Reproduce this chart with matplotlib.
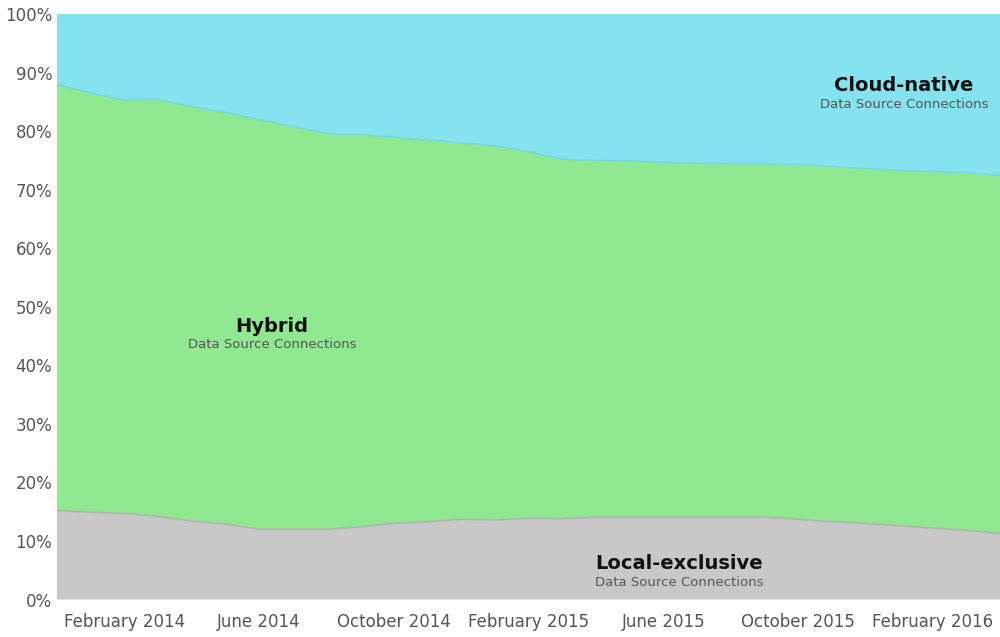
import matplotlib
matplotlib.use("Agg")
import matplotlib.pyplot as plt
import numpy as np

months = list(range(29))  # Dec 2013 .. Apr 2016
local = [15.2,14.9,14.7,14.2,13.4,12.9,12.0,12.0,12.0,12.4,13.0,13.3,13.7,13.6,13.9,13.8,14.1,14.1,14.1,14.1,14.1,14.1,13.7,13.3,13.0,12.6,12.2,11.8,11.3]
hybrid_top = [88.0,86.5,85.3,85.4,84.2,83.2,82.0,80.8,79.6,79.4,79.0,78.5,78.0,77.5,76.5,75.2,75.0,74.9,74.7,74.5,74.4,74.4,74.3,74.0,73.6,73.3,73.1,72.9,72.4]
hybrid = [t - l for t, l in zip(hybrid_top, local)]
cloud = [100 - t for t in hybrid_top]
tick_pos = [2, 6, 10, 14, 18, 22, 26]
tick_labels = ["February 2014", "June 2014", "October 2014", "February 2015",
               "June 2015", "October 2015", "February 2016"]

fig = plt.figure(figsize=(10, 6.37), dpi=100)
ax = fig.add_axes([0.057, 0.046, 0.943, 0.932])
ax.stackplot(months, local, hybrid, cloud,
             colors=["#c8c8c8", "#90e890", "#85e3f0"], edgecolor="none")
ax.plot(months, local, color="#b0b0b0", lw=1)
ax.plot(months, hybrid_top, color="#6fd8e0", lw=1)
ax.set_xlim(0, 28)
ax.set_ylim(-1.4, 100)
ax.set_yticks(range(0, 101, 10))
ax.set_yticklabels([f"{v}%" for v in range(0, 101, 10)])
ax.set_xticks(tick_pos)
ax.set_xticklabels(tick_labels)
ax.tick_params(colors="#555555", labelsize=12, length=0)
for s in ax.spines.values():
    s.set_visible(False)

def lab(x, y, t):
    ax.text(x, y, t, transform=ax.transAxes, ha="center", fontsize=14, fontweight="semibold", color="#111111")
    ax.text(x, y - 0.028, "Data Source Connections", transform=ax.transAxes, ha="center", fontsize=9.5, color="#555555")

lab(0.898, 0.87, "Cloud-native")
lab(0.228, 0.465, "Hybrid")
lab(0.66, 0.065, "Local-exclusive")
fig.savefig("out.png")
